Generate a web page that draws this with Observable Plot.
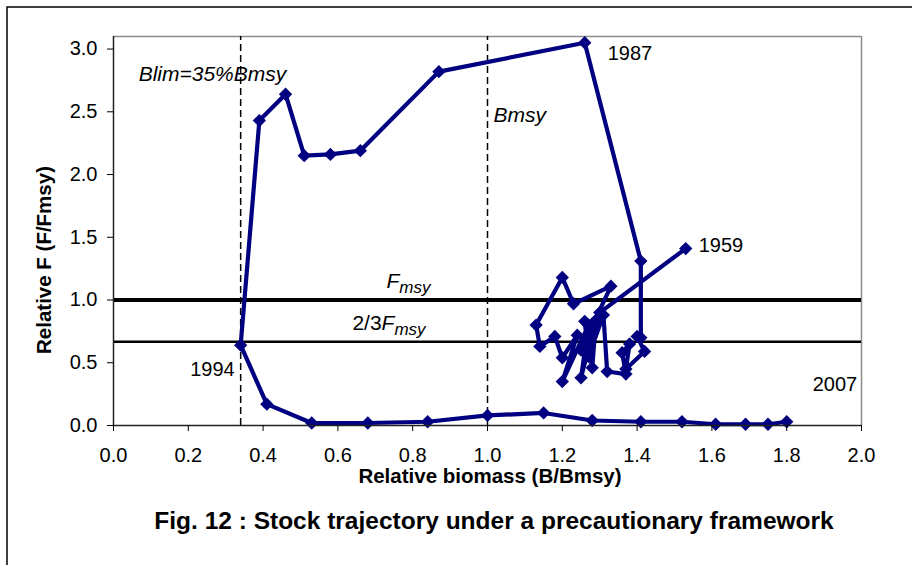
<!DOCTYPE html>
<html><head><meta charset="utf-8">
<script src="https://cdn.jsdelivr.net/npm/d3@7"></script>
<script src="https://cdn.jsdelivr.net/npm/@observablehq/plot@0.6"></script>
<style>body{margin:0;background:#fff} svg{display:block}</style>
</head><body><div id="chart"></div>
<script>
// Relative biomass (B/Bmsy), 1959 -> 2007
const biomass = [1.53, 1.30, 1.25, 1.33, 1.23, 1.20, 1.13, 1.14, 1.18, 1.20,
                 1.24, 1.20, 1.27, 1.25, 1.29, 1.28, 1.26, 1.27, 1.31, 1.32,
                 1.37, 1.36, 1.38, 1.37, 1.42, 1.40, 1.41, 1.41, 1.26, 0.87,
                 0.66, 0.58, 0.51, 0.46, 0.39, 0.34, 0.41, 0.53, 0.68, 0.84,
                 1.00, 1.15, 1.28, 1.41, 1.52, 1.61, 1.69, 1.75, 1.80];
// Relative F (F/Fmsy), 1959 -> 2007
const fishing = [1.41, 0.90, 0.60, 1.11, 0.97, 1.18, 0.80, 0.63, 0.71, 0.54,
                 0.72, 0.35, 0.80, 0.38, 0.84, 0.46, 0.83, 0.55, 0.88, 0.43,
                 0.41, 0.58, 0.65, 0.45, 0.59, 0.71, 0.70, 1.31, 3.05, 2.82,
                 2.19, 2.16, 2.15, 2.64, 2.43, 0.64, 0.17, 0.02, 0.02, 0.03,
                 0.08, 0.10, 0.04, 0.03, 0.03, 0.01, 0.01, 0.01, 0.03];
const xTicks = [0, 0.2, 0.4, 0.6, 0.8, 1.0, 1.2, 1.4, 1.6, 1.8, 2.0];
const yTicks = [0, 0.5, 1.0, 1.5, 2.0, 2.5, 3.0];
const refF = [1, 2 / 3];        // Fmsy, 2/3 Fmsy
const refB = [0.34, 1.0];       // Blim, Bmsy
const yearLabels = ["1959", "1987", "1994", "2007"];
const yearIndex = [0, 28, 35, 48];
const xTitle = "Relative biomass (B/Bmsy)";
const yTitle = "Relative F (F/Fmsy)";
const caption = "Fig. 12 : Stock trajectory under a precautionary framework";

const points = biomass.map((b, i) => ({b, f: fishing[i]}));
const lab = yearIndex.map((k, i) => ({b: biomass[k], f: fishing[k], t: yearLabels[i]}));
const font = "'Liberation Sans', Arial, sans-serif";
const navy = "#000080";

const chart = Plot.plot({
  width: 912, height: 565,
  marginLeft: 113, marginRight: 51, marginTop: 36, marginBottom: 140,
  style: {fontFamily: font, fontSize: "20px", color: "#000", background: "#fff", overflow: "visible"},
  x: {domain: [0, 2]},
  y: {domain: [0, 3.1]},
  marks: [
    Plot.ruleY([3.1], {x1: 0, x2: 2, stroke: "#8c8c8c", strokeWidth: 1.5}),
    Plot.ruleX([2], {y1: 0, y2: 3.1, stroke: "#8c8c8c", strokeWidth: 1.5}),
    Plot.ruleX(refB, {y1: 0, y2: 3.1, stroke: "#000", strokeWidth: 1.5, strokeDasharray: "7,4"}),
    Plot.ruleY([refF[0]], {x1: 0, x2: 2, stroke: "#000", strokeWidth: 4}),
    Plot.ruleY([refF[1]], {x1: 0, x2: 2, stroke: "#000", strokeWidth: 2.5}),
    Plot.line(points, {x: "b", y: "f", stroke: navy, strokeWidth: 4.2, strokeLinejoin: "round"}),
    Plot.dot(points, {x: "b", y: "f", symbol: "diamond2", r: 6, fill: navy, stroke: "none"}),
    Plot.ruleX([0], {y1: 0, y2: 3.1, stroke: "#222", strokeWidth: 1.5}),
    Plot.ruleY([0], {x1: 0, x2: 2, stroke: "#222", strokeWidth: 1.5}),
    Plot.axisX({ticks: xTicks, tickFormat: d3.format(".1f"), tickSize: 6, tickPadding: 16, label: null, fontSize: 20}),
    Plot.axisY({ticks: yTicks, tickFormat: d3.format(".1f"), tickSize: 6, tickPadding: 10, label: null, fontSize: 20}),
    Plot.text([lab[0]], {x: "b", y: "f", text: "t", dx: 13, dy: -3, textAnchor: "start", fontSize: 20}),
    Plot.text([lab[1]], {x: "b", y: "f", text: "t", dx: 23, dy: 11, textAnchor: "start", fontSize: 20}),
    Plot.text([lab[2]], {x: "b", y: "f", text: "t", dx: -6, dy: 24, textAnchor: "end", fontSize: 20}),
    Plot.text([lab[3]], {x: "b", y: "f", text: "t", dx: 26, dy: -37, textAnchor: "start", fontSize: 20}),
    Plot.text(["Blim=35%Bmsy"], {x: refB[0], y: 2.8, text: d => d, dx: -102, textAnchor: "start", fontSize: 21, fontStyle: "italic"}),
    Plot.text(["Bmsy"], {x: refB[1], y: 2.47, text: d => d, dx: 6, textAnchor: "start", fontSize: 21, fontStyle: "italic"})
  ]
});

document.getElementById("chart").appendChild(chart);
const svg = d3.select(chart);
const sx = chart.scale("x"), sy = chart.scale("y");

// outer border (top and left only visible)
svg.append("path").attr("d", "M7,565V7H912").attr("fill", "none").attr("stroke", "#000").attr("stroke-width", 1.5);

// F msy labels
const fm = svg.append("text").attr("x", sx.apply(0.79)).attr("y", sy.apply(refF[0]) - 12)
  .attr("font-family", font).attr("font-size", 21).attr("font-style", "italic").attr("fill", "#000");
fm.append("tspan").text("F");
fm.append("tspan").attr("font-size", 17).attr("dy", 5).text("msy");

const fm2 = svg.append("text").attr("x", sx.apply(0.738)).attr("y", sy.apply(refF[1]) - 11.5)
  .attr("font-family", font).attr("font-size", 21).attr("fill", "#000");
fm2.append("tspan").text("2/3");
fm2.append("tspan").attr("font-style", "italic").text("F");
fm2.append("tspan").attr("font-style", "italic").attr("font-size", 17).attr("dy", 5).text("msy");

// axis titles
svg.append("text").attr("x", 490).attr("y", 483).attr("text-anchor", "middle")
  .attr("font-family", font).attr("font-size", 20.5).attr("font-weight", "bold").text(xTitle);
svg.append("text").attr("transform", "translate(51,260) rotate(-90)").attr("text-anchor", "middle")
  .attr("font-family", font).attr("font-size", 20.5).attr("font-weight", "bold").text(yTitle);
// caption
svg.append("text").attr("x", 494).attr("y", 529).attr("text-anchor", "middle")
  .attr("font-family", font).attr("font-size", 24.5).attr("font-weight", "bold").text(caption);
</script>
</body></html>
